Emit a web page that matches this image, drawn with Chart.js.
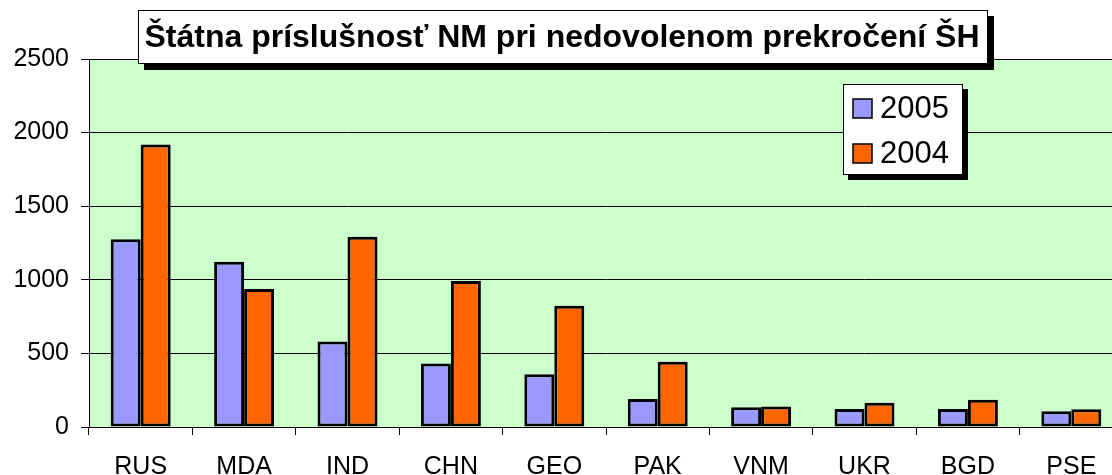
<!DOCTYPE html>
<html>
<head>
<meta charset="utf-8">
<script src="https://cdn.jsdelivr.net/npm/chart.js@4"></script>
<style>
  html, body { margin: 0; padding: 0; background: #fff; overflow: hidden; }
  #chart { display: block; }
</style>
</head>
<body>
<canvas id="chart" width="1125" height="475"></canvas>
<script>
// Chart data
const categories = ['RUS', 'MDA', 'IND', 'CHN', 'GEO', 'PAK', 'VNM', 'UKR', 'BGD', 'PSE'];
const values2005 = [1275, 1123, 580, 432, 358, 190, 134, 122, 122, 107];
const values2004 = [1920, 937, 1293, 992, 824, 444, 140, 165, 185, 120];
const yTicks = [0, 500, 1000, 1500, 2000, 2500];
const chartTitle = 'Štátna príslušnosť NM pri nedovolenom prekročení ŠH';

const COLORS = {
  plotBg: '#CCFFCC',
  blue: '#9999FF',
  orange: '#FF6600',
  line: '#000000',
};

const FONT = "'Liberation Sans', Arial, sans-serif";

// Green plot background
const plotBackground = {
  id: 'plotBackground',
  beforeDraw(chart) {
    const { ctx, chartArea: a } = chart;
    ctx.save();
    ctx.fillStyle = COLORS.plotBg;
    ctx.fillRect(a.left, a.top, a.right - a.left, a.bottom - a.top);
    ctx.restore();
  },
};

function shadowBox(ctx, x, y, w, h, off) {
  ctx.fillStyle = '#000';
  ctx.fillRect(x + off, y + off, w, h);
  ctx.fillStyle = '#fff';
  ctx.fillRect(x, y, w, h);
  ctx.strokeStyle = '#000';
  ctx.lineWidth = 1;
  ctx.strokeRect(x + 0.5, y + 0.5, w - 1, h - 1);
}

// Boxed title and legend, Excel style
const boxes = {
  id: 'boxes',
  afterDraw(chart) {
    const ctx = chart.ctx;
    ctx.save();

    // title
    shadowBox(ctx, 138, 10, 850, 54, 6);
    ctx.fillStyle = '#000';
    ctx.font = 'bold 32px ' + FONT;
    ctx.textAlign = 'center';
    ctx.textBaseline = 'alphabetic';
    ctx.fillText(chartTitle, 138 + 424, 47);

    // legend
    shadowBox(ctx, 843, 84, 120, 91, 5);
    ctx.font = '31px ' + FONT;
    ctx.textAlign = 'left';
    ctx.textBaseline = 'middle';
    chart.data.datasets.forEach((ds, i) => {
      const cy = 108 + i * 45;
      ctx.fillStyle = ds.backgroundColor;
      ctx.fillRect(853, cy - 9, 19, 19);
      ctx.strokeStyle = '#000';
      ctx.lineWidth = 1.5;
      ctx.strokeRect(853, cy - 9, 19, 19);
      ctx.fillStyle = '#000';
      ctx.fillText(ds.label, 880, cy + 1);
    });

    ctx.restore();
  },
};

new Chart(document.getElementById('chart'), {
  type: 'bar',
  data: {
    labels: categories,
    datasets: [
      {
        label: '2005',
        data: values2005,
        backgroundColor: COLORS.blue,
        borderColor: COLORS.line,
        borderWidth: 3,
        borderSkipped: false,
      },
      {
        label: '2004',
        data: values2004,
        backgroundColor: COLORS.orange,
        borderColor: COLORS.line,
        borderWidth: 3,
        borderSkipped: false,
      },
    ],
  },
  options: {
    responsive: false,
    animation: false,
    layout: { padding: { top: 59, right: 2, left: 0, bottom: 0 } },
    datasets: {
      bar: { categoryPercentage: 0.58, barPercentage: 1.0 },
    },
    plugins: {
      legend: { display: false },
      title: { display: false },
      tooltip: { enabled: false },
    },
    scales: {
      x: {
        afterFit: (scale) => { scale.height = 48; },
        grid: {
          offset: true,
          drawOnChartArea: false,
          drawTicks: true,
          tickLength: 8,
          color: COLORS.line,
        },
        border: { color: COLORS.line, width: 1 },
        ticks: {
          color: '#000',
          font: { family: FONT, size: 25 },
          padding: 17,
          maxRotation: 0,
          autoSkip: false,
        },
      },
      y: {
        min: 0,
        max: 2500,
        afterFit: (scale) => { scale.width = 89; },
        afterBuildTicks: (scale) => { scale.ticks = yTicks.map((v) => ({ value: v })); },
        grid: {
          color: COLORS.line,
          lineWidth: 1,
          tickLength: 8,
        },
        border: { color: COLORS.line, width: 1 },
        ticks: {
          color: '#000',
          font: { family: FONT, size: 25 },
          padding: 12,
          callback: (v) => String(v),
        },
      },
    },
  },
  plugins: [plotBackground, boxes],
});
</script>
</body>
</html>
